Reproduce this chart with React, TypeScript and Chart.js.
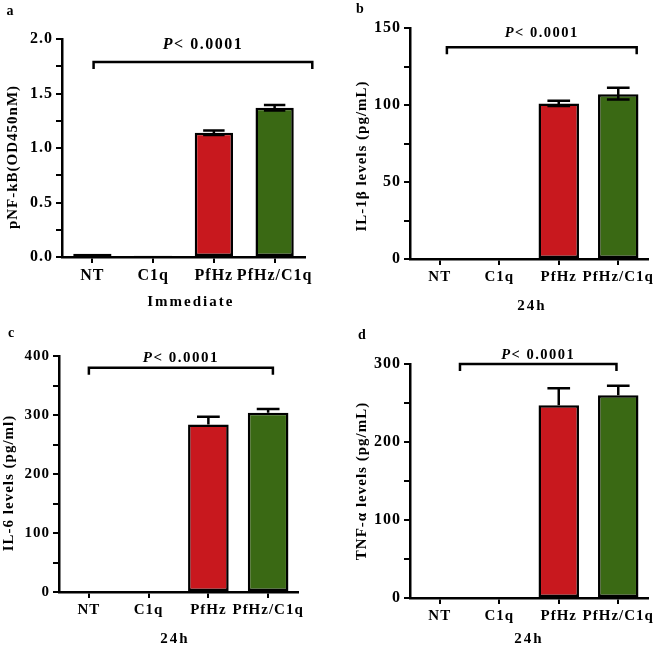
import React, { useEffect, useRef } from "react";
import { Chart, registerables } from "chart.js";
Chart.register(...registerables);

// ---- data ----
const categories = ["NT", "C1q", "PfHz", "PfHz/C1q"];
const barColors = ["#ffffff", "#ffffff", "#C8181E", "#3A6914"];

const nfkbValues = [0.03, 0.012, 1.14, 1.37];
const nfkbErrUp = [0, 0, 0.02, 0.025];
const nfkbErrLow = [0, 0, 0.02, 0.025];

const il1bValues = [0, 0, 101, 107];
const il1bErrUp = [0, 0, 1.7, 4.2];
const il1bErrLow = [0, 0, 1.7, 3.5];

const il6Values = [0, 0, 284, 304];
const il6ErrUp = [0, 0, 13, 6];
const il6ErrLow = [0, 0, 0, 0];

const tnfValues = [0, 0, 247, 260];
const tnfErrUp = [0, 0, 22, 12];
const tnfErrLow = [0, 0, 0, 0];

const pText = "P";
const pRest = "< 0.0001";

const FONT = '"Liberation Serif", "Times New Roman", serif';

type Cfg = {
  letter: string;
  left: number; top: number; w: number; h: number;
  area: { left: number; top: number; right: number; bottom: number };
  values: number[]; errUp: number[]; errLow: number[];
  yMin: number; yMax: number; step: number; major: number; decimals: number;
  yTitle: string; yTitlePos: { x: number; y: number };
  xTitle: string; xTitleIndex: number; xTitleY: number;
  barPct: number;
  bracket: { from: number; to: number; y: number; textY: number };
  letterPos: { x: number; y: number };
  xTickSize: number; yTickSize: number; pSize: number;
};

const panels: Cfg[] = [
  {
    letter: "a", left: 0, top: 0, w: 332, h: 320,
    area: { left: 62, top: 39, right: 305, bottom: 257 },
    values: nfkbValues, errUp: nfkbErrUp, errLow: nfkbErrLow,
    yMin: 0, yMax: 2, step: 0.25, major: 0.5, decimals: 1,
    yTitle: "pNF-kB(OD450nM)", yTitlePos: { x: 13, y: 157 },
    xTitle: "Immediate", xTitleIndex: 1.62, xTitleY: 302,
    barPct: 0.63,
    bracket: { from: 0.02, to: 3.62, y: 1.79, textY: 45 },
    letterPos: { x: 10, y: 11 },
    xTickSize: 16, yTickSize: 16, pSize: 16,
  },
  {
    letter: "b", left: 332, top: 0, w: 332, h: 320,
    area: { left: 78, top: 28, right: 316, bottom: 259 },
    values: il1bValues, errUp: il1bErrUp, errLow: il1bErrLow,
    yMin: 0, yMax: 150, step: 25, major: 50, decimals: 0,
    yTitle: "IL-1β levels (pg/mL)", yTitlePos: { x: 30, y: 156 },
    xTitle: "24h", xTitleIndex: 1.55, xTitleY: 306,
    barPct: 0.68,
    bracket: { from: 0.12, to: 3.31, y: 137.5, textY: 33 },
    letterPos: { x: 28, y: 9 },
    xTickSize: 15, yTickSize: 16, pSize: 14.5,
  },
  {
    letter: "c", left: 0, top: 320, w: 332, h: 329,
    area: { left: 59, top: 36, right: 298, bottom: 272 },
    values: il6Values, errUp: il6ErrUp, errLow: il6ErrLow,
    yMin: 0, yMax: 400, step: 50, major: 100, decimals: 0,
    yTitle: "IL-6 levels (pg/ml)", yTitlePos: { x: 9, y: 163 },
    xTitle: "24h", xTitleIndex: 1.44, xTitleY: 319,
    barPct: 0.68,
    bracket: { from: 0, to: 3.08, y: 380, textY: 38 },
    letterPos: { x: 11, y: 13 },
    xTickSize: 15, yTickSize: 15, pSize: 15,
  },
  {
    letter: "d", left: 332, top: 320, w: 332, h: 329,
    area: { left: 78, top: 44, right: 316, bottom: 278 },
    values: tnfValues, errUp: tnfErrUp, errLow: tnfErrLow,
    yMin: 0, yMax: 300, step: 50, major: 100, decimals: 0,
    yTitle: "TNF-α levels (pg/mL)", yTitlePos: { x: 30, y: 161 },
    xTitle: "24h", xTitleIndex: 1.5, xTitleY: 319,
    barPct: 0.68,
    bracket: { from: 0.34, to: 2.97, y: 300, textY: 35 },
    letterPos: { x: 30, y: 15 },
    xTickSize: 15, yTickSize: 16, pSize: 14.5,
  },
];

const spacingPlugin = {
  id: "spacing",
  beforeUpdate(chart: any) {
    chart.ctx.letterSpacing = "1px";
  },
  beforeDraw(chart: any) {
    chart.ctx.letterSpacing = "1px";
  },
};

const annotPlugin = {
  id: "annot",
  afterDatasetsDraw(chart: any, _args: any, opts: any) {
    const c: Cfg = opts.cfg;
    const ctx = chart.ctx;
    const ys = chart.scales.y;
    const meta = chart.getDatasetMeta(0);
    ctx.save();
    ctx.strokeStyle = "#000";
    ctx.lineWidth = 2.5;
    c.values.forEach((v, i) => {
      const up = c.errUp[i];
      const lo = c.errLow[i];
      if (!up && !lo) return;
      const bar = meta.data[i];
      const x = bar.x;
      const half = bar.width * 0.28;
      const yTop = ys.getPixelForValue(v + up);
      const yBot = ys.getPixelForValue(v - lo);
      ctx.beginPath();
      ctx.moveTo(x, yBot);
      ctx.lineTo(x, yTop);
      ctx.moveTo(x - half, yTop);
      ctx.lineTo(x + half, yTop);
      if (lo) {
        ctx.moveTo(x - half, yBot);
        ctx.lineTo(x + half, yBot);
      }
      ctx.stroke();
    });
    ctx.restore();
  },
  afterDraw(chart: any, _args: any, opts: any) {
    const c: Cfg = opts.cfg;
    const ctx = chart.ctx;
    const xs = chart.scales.x;
    const ys = chart.scales.y;
    ctx.save();
    // bracket
    const bx1 = xs.getPixelForValue(c.bracket.from);
    const bx2 = xs.getPixelForValue(c.bracket.to);
    const by = ys.getPixelForValue(c.bracket.y);
    ctx.strokeStyle = "#000";
    ctx.lineWidth = 2.5;
    ctx.beginPath();
    ctx.moveTo(bx1, by + 7);
    ctx.lineTo(bx1, by);
    ctx.lineTo(bx2, by);
    ctx.lineTo(bx2, by + 7);
    ctx.stroke();
    // P text
    ctx.letterSpacing = "1.5px";
    ctx.fillStyle = "#000";
    ctx.textBaseline = "middle";
    ctx.textAlign = "left";
    const fI = `italic bold ${c.pSize}px ${FONT}`;
    const fB = `bold ${c.pSize}px ${FONT}`;
    ctx.font = fI;
    const w1 = ctx.measureText(pText).width;
    ctx.font = fB;
    const w2 = ctx.measureText(pRest).width;
    const cx = (bx1 + bx2) / 2;
    const x0 = cx - (w1 + w2) / 2;
    ctx.font = fI;
    ctx.fillText(pText, x0, c.bracket.textY);
    ctx.font = fB;
    ctx.fillText(pRest, x0 + w1, c.bracket.textY);
    // x title
    ctx.letterSpacing = "2px";
    ctx.textAlign = "center";
    ctx.font = `bold 15px ${FONT}`;
    ctx.fillText(c.xTitle, xs.getPixelForValue(c.xTitleIndex), c.xTitleY);
    // y title
    ctx.letterSpacing = "1px";
    ctx.save();
    ctx.translate(c.yTitlePos.x, c.yTitlePos.y);
    ctx.rotate(-Math.PI / 2);
    ctx.font = `bold 15px ${FONT}`;
    ctx.fillText(c.yTitle, 0, 0);
    ctx.restore();
    // panel letter
    ctx.letterSpacing = "0px";
    ctx.font = `bold 14px ${FONT}`;
    ctx.fillText(c.letter, c.letterPos.x, c.letterPos.y);
    ctx.restore();
  },
};

function Panel({ cfg }: { cfg: Cfg }) {
  const ref = useRef<HTMLCanvasElement>(null);
  useEffect(() => {
    const c = cfg;
    const chart = new Chart(ref.current!, {
      type: "bar",
      data: {
        labels: categories,
        datasets: [
          {
            data: c.values,
            backgroundColor: barColors,
            borderColor: "#000",
            borderWidth: 2.5,
            borderSkipped: false,
            barPercentage: c.barPct,
            categoryPercentage: 1,
          },
        ],
      },
      options: {
        responsive: false,
        animation: false,
        layout: {
          padding: { top: c.area.top, right: c.w - c.area.right, left: 0, bottom: 0 },
        },
        plugins: {
          legend: { display: false },
          tooltip: { enabled: false },
          annot: { cfg: c },
        } as any,
        scales: {
          x: {
            offset: true,
            grid: {
              offset: false,
              drawOnChartArea: false,
              drawTicks: true,
              tickLength: 6,
              color: "#000",
              lineWidth: 2,
            },
            border: { display: true, color: "#000", width: 2.5 },
            ticks: {
              color: "#000",
              font: { family: FONT, size: c.xTickSize, weight: "bold" },
              padding: 3,
              maxRotation: 0,
              autoSkip: false,
            },
            afterFit: (s: any) => {
              s.height = c.h - c.area.bottom;
            },
          },
          y: {
            min: c.yMin,
            max: c.yMax,
            grid: {
              drawOnChartArea: false,
              drawTicks: true,
              tickLength: 6,
              color: "#000",
              lineWidth: 2,
            },
            border: { display: true, color: "#000", width: 2.5 },
            ticks: {
              stepSize: c.step,
              autoSkip: false,
              color: "#000",
              font: { family: FONT, size: c.yTickSize, weight: "bold" },
              padding: 3,
              callback: (v: any) => {
                const n = Number(v);
                const r = n / c.major;
                return Math.abs(r - Math.round(r)) < 1e-6 ? n.toFixed(c.decimals) : "";
              },
            },
            afterFit: (s: any) => {
              s.width = c.area.left;
            },
          },
        },
      } as any,
      plugins: [spacingPlugin, annotPlugin],
    });
    return () => chart.destroy();
  }, [cfg]);
  return (
    <canvas
      ref={ref}
      width={cfg.w}
      height={cfg.h}
      style={{ position: "absolute", left: cfg.left, top: cfg.top, width: cfg.w, height: cfg.h }}
    />
  );
}

export default function App() {
  return (
    <div
      style={{
        position: "absolute",
        left: 0,
        top: 0,
        width: 664,
        height: 649,
        background: "#fff",
        overflow: "hidden",
      }}
    >
      {panels.map((p) => (
        <Panel key={p.letter} cfg={p} />
      ))}
    </div>
  );
}
